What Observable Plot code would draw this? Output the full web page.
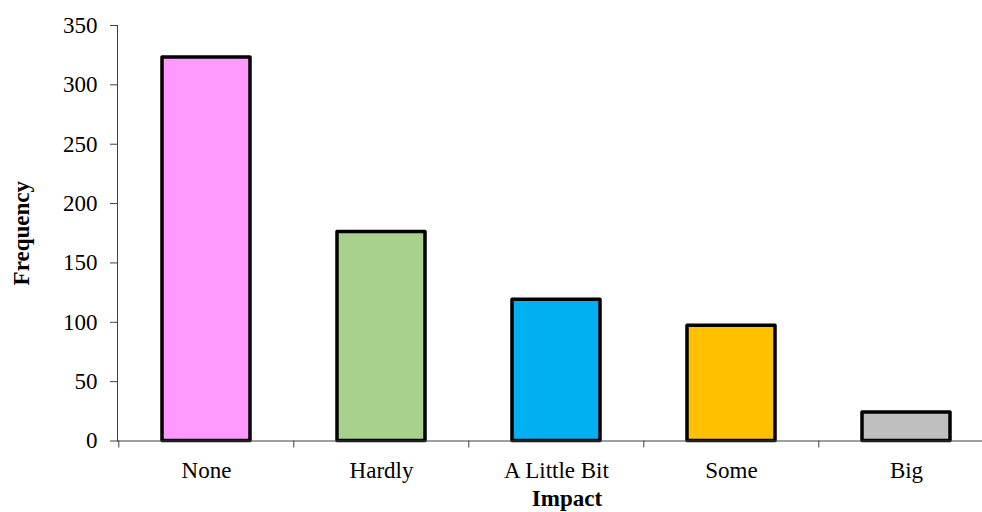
<!DOCTYPE html>
<html>
<head>
<meta charset="utf-8">
<script src="https://cdn.jsdelivr.net/npm/d3@7"></script>
<script src="https://cdn.jsdelivr.net/npm/@observablehq/plot@0.6"></script>
<style>
  html, body { margin: 0; padding: 0; background: #fff; }
  #chart svg { display: block; }
  #chart svg text { font-family: 'Liberation Serif', 'Times New Roman', serif; }
  g[aria-label="y-axis label"] text { font-weight: bold; }
</style>
</head>
<body>
<div id="chart"></div>
<script>
// Survey responses: how much of an impact, by frequency
const categories = ["None", "Hardly", "A Little Bit", "Some", "Big"];
const frequencies = [323, 176, 119, 97, 24];
const barColors = ["#FF99FF", "#A9D18E", "#00B0F0", "#FFC000", "#BFBFBF"];
const yTicks = [0, 50, 100, 150, 200, 250, 300, 350];

const data = categories.map((c, i) => ({impact: c, frequency: frequencies[i], color: barColors[i]}));

const W = 982, H = 512;
const left = 117, xEnd = 994;            // category axis runs past the right edge
const step = (xEnd - left) / categories.length;
const fs = 23;

const chart = Plot.plot({
  width: W,
  height: H,
  marginLeft: left,
  marginRight: 0,
  marginTop: 25,
  marginBottom: 71.5,
  style: {fontFamily: "'Liberation Serif', 'Times New Roman', serif", fontSize: fs + "px", color: "#000", background: "#fff"},
  x: {domain: categories, range: [left, xEnd], paddingInner: 0.5, paddingOuter: 0.25},
  y: {domain: [0, 350]},
  marks: [
    Plot.barY(data, {x: "impact", y: "frequency", fill: "color", stroke: "#000", strokeWidth: 3.5, strokeLinejoin: "round"}),
    // value axis
    Plot.axisY({ticks: yTicks, tickSize: 7, tickPadding: 13, stroke: "#404040", strokeOpacity: 1,
      label: "Frequency", labelAnchor: "center", labelOffset: 105, labelArrow: "none", fontSize: fs}),
    Plot.frame({anchor: "left", stroke: "#404040"}),
    // category axis
    Plot.ruleY([0], {stroke: "#404040"}),
    Plot.axisX({tickSize: 0, tickPadding: 21, label: null, fontSize: fs}),
    Plot.ruleX(categories, {x: d => d, y1: 0, y2: 0, insetBottom: -7, dx: -step / 2, stroke: "#404040"}),
    Plot.text(["Impact"], {frameAnchor: "bottom", dx: 17, dy: 65, text: d => d, fontWeight: "bold", fontSize: fs, lineAnchor: "bottom"})
  ]
});
document.getElementById("chart").appendChild(chart);
</script>
</body>
</html>
